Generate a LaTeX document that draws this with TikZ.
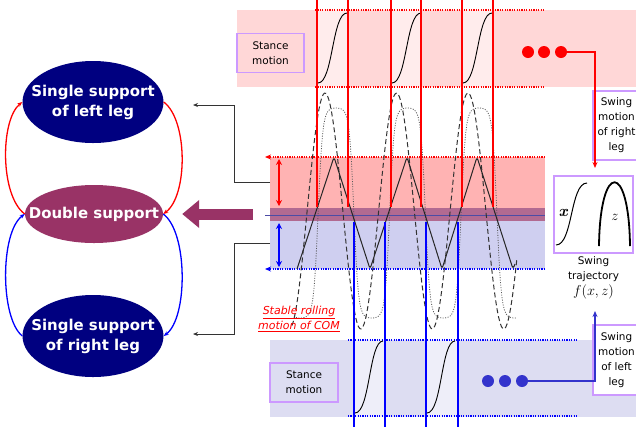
\documentclass[tikz,border=0pt]{standalone}
\usepackage{fontspec}
\newfontfamily\vfont{DejaVu Sans}
\usetikzlibrary{shapes.geometric,arrows.meta,positioning,calc}
\definecolor{ssnavy}{RGB}{0,0,128}
\definecolor{dsmaroon}{RGB}{153,51,102}
\definecolor{stpink}{RGB}{255,215,215}
\definecolor{stpinklt}{RGB}{255,236,236}
\definecolor{redband}{RGB}{255,179,179}
\definecolor{mixband}{RGB}{178,106,145}
\definecolor{blueband}{RGB}{207,207,240}
\definecolor{stblue}{RGB}{221,221,242}
\definecolor{stbluelt}{RGB}{238,238,249}
\definecolor{boxlav}{RGB}{204,153,255}
\definecolor{dotblue}{RGB}{51,51,204}

\begin{document}
\begin{tikzpicture}[x=1bp,y=-1bp,
  legnode/.style={ellipse,fill=ssnavy,inner sep=0pt,minimum width=141bp,minimum height=82bp},
  legtext/.style={text=white,align=center,inner sep=0pt,font=\vfont\bfseries\fontsize{15}{20}\selectfont},
  lavbox/.style={draw=boxlav,line width=1.5bp,align=center,inner sep=0pt,
    font=\vfont\fontsize{10.5}{15}\selectfont},
  reddot/.style={red,line width=1.2bp,dash pattern=on 1.2bp off 1.2bp},
  bluedot/.style={blue,line width=1.2bp,dash pattern=on 1.2bp off 1.2bp},
  smalltip/.style={-{Stealth[length=5bp,width=4bp]}},
  ball/.style={circle,inner sep=0pt,minimum size=12bp}]
  \clip (0,0) rectangle (636,427);
  \fill[white] (0,0) rectangle (636,427);

  % stance bands and COM band
  \fill[stpink] (237,10) rectangle (636,87);
  \foreach \x in {317,391,462} \fill[stpinklt] (\x,10) rectangle ++(31,77);
  \fill[stblue] (270,340) rectangle (636,417);
  \foreach \x in {354,426} \fill[stbluelt] (\x,340) rectangle ++(31,77);
  \fill[redband] (270,157) rectangle (545,208);
  \fill[mixband] (270,208) rectangle (545,221);
  \fill[blueband] (270,221) rectangle (545,269);
  \draw[ssnavy!70,line width=0.6bp] (265,215) -- (545,215);
  \draw[reddot] (315,10) -- (545,10);
  \draw[reddot] (315,87) -- (545,87);
  \draw[bluedot] (348,340) -- (578,340);
  \draw[bluedot] (348,416) -- (578,416);
  \draw[reddot,-{Stealth[length=6bp,width=5bp]}] (545,157) -- (265,157);
  \draw[bluedot,-{Stealth[length=6bp,width=5bp]}] (545,269) -- (265,269);

  \foreach \x in {318,392,463}
    \draw[line width=0.9bp] (\x,83) .. controls (\x+15,83) and (\x+14,13) .. (\x+29,13);
  \foreach \x in {355,427}
    \draw[line width=0.9bp] (\x,413) .. controls (\x+15,413) and (\x+14,341) .. (\x+28,341);

  % leg and COM trajectories
  \draw[black!80,line width=1bp,dash pattern=on 5bp off 3bp]
    plot[domain=292:517,samples=160] (\x,{211-118*cos(5.035*(\x-325))});
  \draw[black!65,line width=0.8bp,dash pattern=on 1bp off 1.5bp]
    plot[domain=296:517,samples=160] (\x,{213-105*tanh(2.5*cos(5.035*(\x-336)))/tanh(2.5)});
  \draw[black!85,line width=1bp,rounded corners=3bp]
    (297,269) -- (334,157) -- (370,269) -- (407,157) -- (442,269) -- (477,157) -- (513,269) -- (515,264);

  \foreach \x in {317,348,391,421,462,493} \draw[red,line width=1.6bp] (\x,0) -- (\x,207);
  \foreach \x in {354,385,426,458} \draw[blue,line width=1.6bp] (\x,222) -- (\x,427);
  \draw[red,line width=2bp,{Stealth[length=6bp,width=6bp]}-{Stealth[length=6bp,width=6bp]}] (279,159) -- (279,206);
  \draw[blue,line width=2bp,{Stealth[length=6bp,width=6bp]}-{Stealth[length=6bp,width=6bp]}] (279,223) -- (279,267);

  \node[red,align=center,font=\vfont\itshape\fontsize{11}{15}\selectfont] (com) at (299,319)
    {\underline{Stable rolling}\\\underline{motion of COM}};

  % gait states
  \node[legnode] (ssl) at (93,102) {};
  \node[legnode,fill=dsmaroon,minimum width=138bp,minimum height=58bp] (ds) at (94,214) {};
  \node[legnode] (ssr) at (93,336) {};
  \node[legtext] (ssltxt) at (ssl) {Single support\\of left leg};
  \node[legtext] (dstxt) at (ds) {Double support};
  \node[legtext] (ssrtxt) at (ssr) {Single support\\of right leg};
  \draw[red,line width=1.3bp,smalltip] (ds.west) .. controls (0,196) and (0,120) .. (ssl.west);
  \draw[red,line width=1.3bp,smalltip] (ssl.east) .. controls (188,120) and (188,196) .. (ds.east);
  \draw[blue,line width=1.3bp,smalltip] (ssr.west) .. controls (0,318) and (0,232) .. (ds.west);
  \draw[blue,line width=1.3bp,smalltip] (ds.east) .. controls (188,232) and (188,318) .. (ssr.east);

  \coordinate (redsrc) at (270,182);
  \coordinate (bluesrc) at (270,243);
  \coordinate (sslin) at (193,105);
  \coordinate (ssrin) at (193,334);
  \coordinate (bigsrc) at (253,214);
  \draw[black!80,line width=1bp,smalltip] (redsrc) -- (234,182) |- (sslin);
  \draw[black!80,line width=1bp,smalltip] (bluesrc) -- (234,243) |- (ssrin);
  \draw[dsmaroon,line width=11bp,shorten >=19bp,-{Triangle[length=17bp,width=27bp]}] (bigsrc) -- (ds.east);

  % stance and swing boxes
  \node[lavbox,fill=stpink,minimum width=67bp,minimum height=39bp] (sttop) at (270.5,53) {Stance\\motion};
  \node[lavbox,fill=stblue,minimum width=68bp,minimum height=39bp] (stbot) at (304,382.5) {Stance\\motion};
  \node[lavbox,fill=white,minimum width=47bp,minimum height=69bp] (swr) at (616.5,125.5) {Swing\\motion\\of right\\leg};
  \node[lavbox,fill=white,minimum width=47bp,minimum height=70bp] (swl) at (616.5,360) {Swing\\motion\\of left\\leg};
  \node[lavbox,fill=white,minimum width=79bp,minimum height=77bp] (traj) at (593.5,214.5) {};
  \node[align=center,inner sep=0pt,font=\vfont\fontsize{10.5}{15}\selectfont,below=3bp of traj] (trajlbl)
    {Swing\\trajectory\\[1bp]{\fontsize{14}{16}\selectfont$f(x,z)$}};
  \draw[line width=1bp] (556,245) .. controls (573,245) and (570,183) .. (587,183);
  \draw[line width=1.8bp] (599,246) .. controls (600,161) and (629,161) .. (630,246);
  \node[font=\fontsize{16}{16}\selectfont\bfseries\itshape] (xlbl) at (563,213) {x};
  \node[font=\fontsize{15}{15}\selectfont\itshape] (zlbl) at (615,217) {$z$};

  \foreach \i/\x in {1/528,2/544,3/561} \node[ball,fill=red] (rd\i) at (\x,52) {};
  \foreach \i/\x in {1/488,2/505,3/522} \node[ball,fill=dotblue] (bd\i) at (\x,381) {};
  \coordinate (swrdn) at (595,168);
  \coordinate (swlup) at (595,311);
  \draw[red,line width=1.5bp,-{Stealth[length=6bp,width=5bp]}] (rd3) -| (swrdn);
  \draw[dotblue,line width=1.5bp,-{Stealth[length=6bp,width=5bp]}] (bd3) -| (swlup);
\end{tikzpicture}
\end{document}
